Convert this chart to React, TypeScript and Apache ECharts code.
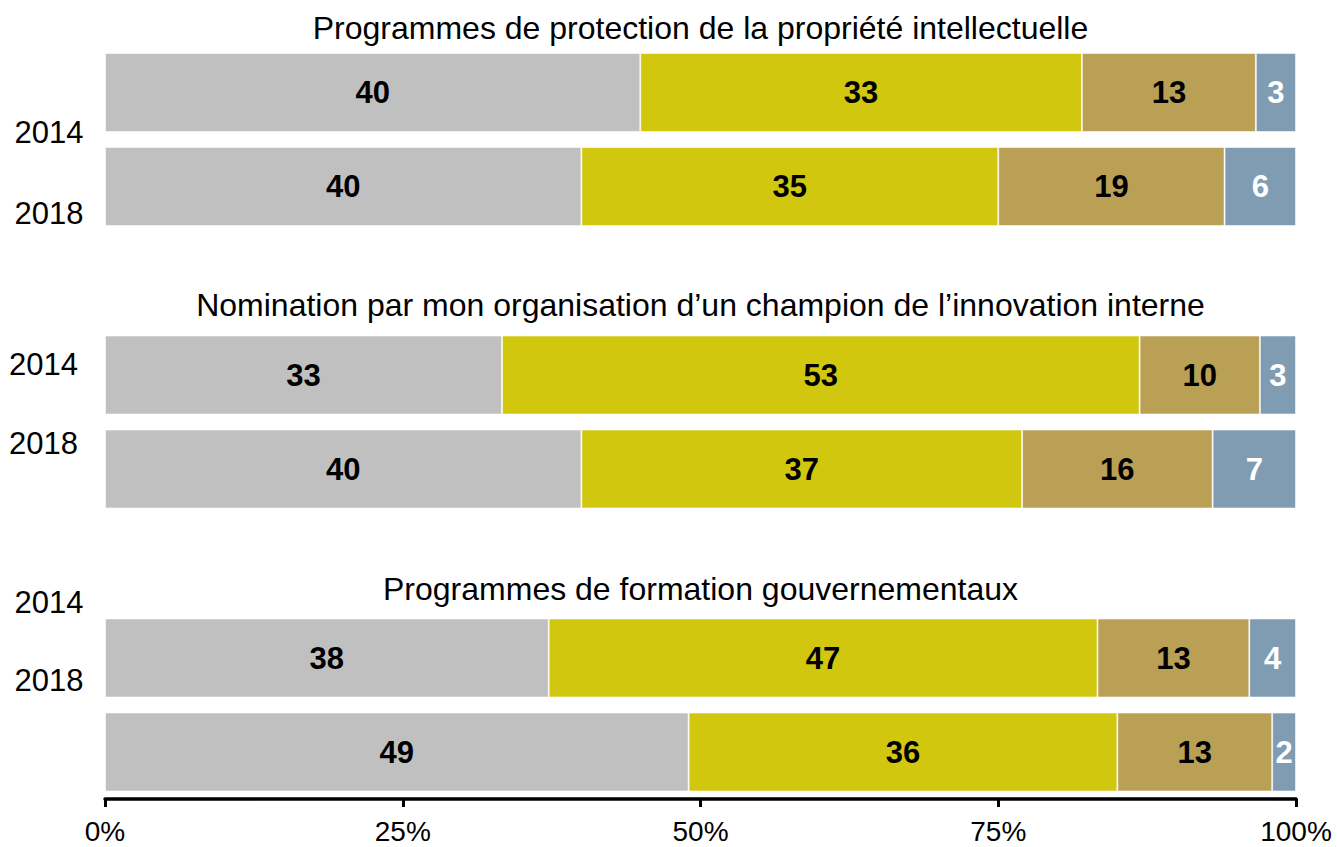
import React, { useEffect, useRef } from "react";
import * as echarts from "echarts";

const years = ["2014", "2018"];
const groupTitles = [
  "Programmes de protection de la propriété intellectuelle",
  "Nomination par mon organisation d’un champion de l’innovation interne",
  "Programmes de formation gouvernementaux",
];
const protection2014 = [40, 33, 13, 3];
const protection2018 = [40, 35, 19, 6];
const champion2014 = [33, 53, 10, 3];
const champion2018 = [40, 37, 16, 7];
const formation2014 = [38, 47, 13, 4];
const formation2018 = [49, 36, 13, 2];
const groups = [
  [protection2014, protection2018],
  [champion2014, champion2018],
  [formation2014, formation2018],
];
const segmentColors = ["#C0C0C0", "#D1C70E", "#B9A055", "#7F9CB3"];
const labelColors = ["#000000", "#000000", "#000000", "#FFFFFF"];
const tickLabels = ["0%", "25%", "50%", "75%", "100%"];

const FONT = "'Liberation Sans', Arial, Helvetica, sans-serif";

export default function App() {
  const ref = useRef<HTMLDivElement>(null);
  useEffect(() => {
    if (!ref.current) return;
    const chart = echarts.init(ref.current, null, { renderer: "svg" });
    const gridTops = [45.5, 328, 611];
    const gridH = 188;
    const grids = gridTops.map((t) => ({ left: 105, right: 41, top: t, height: gridH, containLabel: false }));
    const xAxes = gridTops.map((_, i) => ({
      type: "value",
      gridIndex: i,
      min: 0,
      max: 100,
      interval: 25,
      show: i === 2,
      splitLine: { show: false },
      axisLine: { show: i === 2, lineStyle: { color: "#000", width: 3.5 } },
      axisTick: { show: i === 2, length: 8, lineStyle: { color: "#000", width: 3 } },
      axisLabel: {
        show: i === 2,
        fontSize: 28,
        color: "#000",
        fontFamily: FONT,
        margin: 18,
        formatter: (v: number) => tickLabels[Math.round(v / 25)],
      },
    }));
    const yAxes = gridTops.map((_, i) => ({
      type: "category",
      gridIndex: i,
      data: years,
      inverse: true,
      show: false,
    }));
    const series: any[] = [];
    groups.forEach((g, gi) => {
      for (let s = 0; s < 4; s++) {
        series.push({
          type: "bar",
          xAxisIndex: gi,
          yAxisIndex: gi,
          stack: "g" + gi,
          barWidth: 79,
          itemStyle: { color: segmentColors[s], borderColor: "rgba(255,255,255,0.55)", borderWidth: 1 },
          label: {
            show: true,
            position: "inside",
            fontSize: 31,
            fontWeight: "bold",
            fontFamily: FONT,
            color: labelColors[s],
            formatter: (p: any) => String(p.data.raw),
          },
          data: g.map((row) => {
            const total = row.reduce((a, b) => a + b, 0);
            return { value: (row[s] / total) * 100, raw: row[s] };
          }),
        });
      }
    });
    const titleYs = [28, 304.5, 589];
    const yearLabels = [
      { text: "2014", x: 49, y: 132 },
      { text: "2018", x: 49, y: 213 },
      { text: "2014", x: 43.5, y: 364.5 },
      { text: "2018", x: 43.5, y: 443 },
      { text: "2014", x: 49, y: 602 },
      { text: "2018", x: 49, y: 680 },
    ];
    const graphic: any[] = [
      ...groupTitles.map((t, i) => ({
        type: "text",
        x: 700.5,
        y: titleYs[i],
        style: { text: t, fontSize: 32, fontFamily: FONT, fill: "#000", align: "center", verticalAlign: "middle" },
      })),
      ...yearLabels.map((l) => ({
        type: "text",
        x: l.x,
        y: l.y,
        style: { text: l.text, fontSize: 31, fontFamily: FONT, fill: "#000", align: "center", verticalAlign: "middle" },
      })),
    ];
    chart.setOption({
      animation: false,
      backgroundColor: "#fff",
      grid: grids,
      xAxis: xAxes,
      yAxis: yAxes,
      series,
      graphic,
    });
    return () => chart.dispose();
  }, []);
  return <div ref={ref} style={{ position: "absolute", left: 0, top: 0, width: 1337, height: 847 }} />;
}
